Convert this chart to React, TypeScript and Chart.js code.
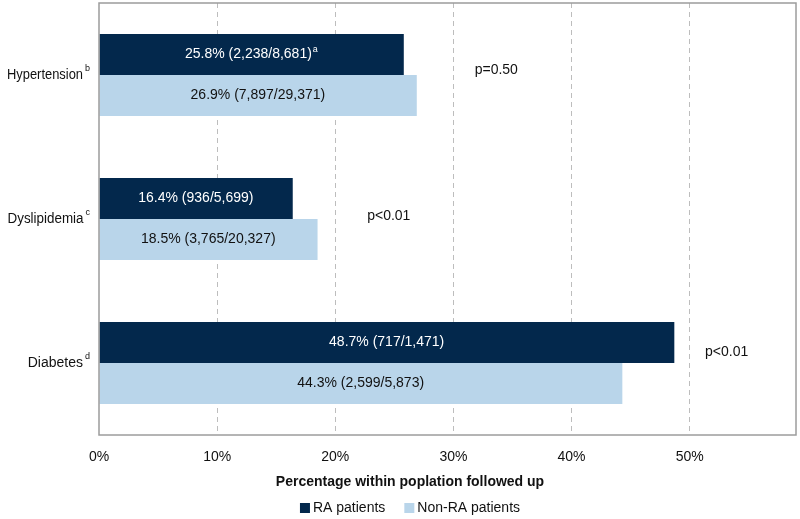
import React, { useEffect, useRef } from 'react';
import { Chart, registerables } from 'chart.js';

Chart.register(...registerables);

const categories = ['Hypertension', 'Dyslipidemia', 'Diabetes'];
const categoryNotes = ['b', 'c', 'd'];
const seriesNames = ['RA patients', 'Non-RA patients'];
const raValues = [25.8, 16.4, 48.7];
const nonRaValues = [26.9, 18.5, 44.3];
const raCases = [2238, 936, 717];
const raTotals = [8681, 5699, 1471];
const nonRaCases = [7897, 3765, 2599];
const nonRaTotals = [29371, 20327, 5873];
const raNotes = ['a', '', ''];
const pValueTexts = ['p=0.50', 'p<0.01', 'p<0.01'];
const pValueX = [31.8, 22.7, 51.3];
const pValueYOffset = [-0.035, -0.02, -0.076];
const xTickValues = [0, 10, 20, 30, 40, 50];
const xAxisTitle = 'Percentage within poplation followed up';

const FONT = "'Liberation Sans', Arial, sans-serif";
const RA_COLOR = '#03284C';
const NON_RA_COLOR = '#B9D5EA';
const AXIS_COLOR = '#9c9c9c';

const fmt = (n: number) => n.toLocaleString('en-US');

function drawWithSup(ctx: CanvasRenderingContext2D, main: string, sup: string, cx: number, cy: number, color: string) {
  ctx.save();
  ctx.fillStyle = color;
  ctx.textBaseline = 'middle';
  ctx.textAlign = 'left';
  ctx.font = `14px ${FONT}`;
  const mw = ctx.measureText(main).width;
  ctx.font = `9px ${FONT}`;
  const sw = sup ? ctx.measureText(sup).width + 1 : 0;
  const x0 = cx - (mw + sw) / 2;
  ctx.font = `14px ${FONT}`;
  ctx.fillText(main, x0, cy);
  if (sup) {
    ctx.font = `9px ${FONT}`;
    ctx.fillText(sup, x0 + mw + 1, cy - 5);
  }
  ctx.restore();
}

const customPlugin = {
  id: 'customDraw',
  afterDatasetsDraw(chart: any) {
    const ctx = chart.ctx as CanvasRenderingContext2D;
    const xs = chart.scales.x;
    const ys = chart.scales.y;
    const x0 = xs.getPixelForValue(0);
    // bar labels
    const m0 = chart.getDatasetMeta(0);
    const m1 = chart.getDatasetMeta(1);
    categories.forEach((_, i) => {
      const b0 = m0.data[i];
      const b1 = m1.data[i];
      const t0 = `${raValues[i].toFixed(1)}% (${fmt(raCases[i])}/${fmt(raTotals[i])})`;
      const t1 = `${nonRaValues[i].toFixed(1)}% (${fmt(nonRaCases[i])}/${fmt(nonRaTotals[i])})`;
      drawWithSup(ctx, t0, raNotes[i], (x0 + b0.x) / 2, b0.y, '#ffffff');
      drawWithSup(ctx, t1, '', (x0 + b1.x) / 2, b1.y, '#111111');
    });
    // p values
    ctx.save();
    ctx.font = `14px ${FONT}`;
    ctx.fillStyle = '#111111';
    ctx.textBaseline = 'middle';
    ctx.textAlign = 'left';
    pValueTexts.forEach((t, i) => {
      ctx.fillText(t, xs.getPixelForValue(pValueX[i]), ys.getPixelForValue(i + pValueYOffset[i]));
    });
    ctx.restore();
  },
  afterDraw(chart: any) {
    const ctx = chart.ctx as CanvasRenderingContext2D;
    const a = chart.chartArea;
    const ys = chart.scales.y;
    // plot border
    ctx.save();
    ctx.strokeStyle = AXIS_COLOR;
    ctx.lineWidth = 1.5;
    ctx.strokeRect(a.left, a.top, a.right - a.left, a.bottom - a.top);
    ctx.restore();
    // y labels
    ctx.save();
    ctx.fillStyle = '#111111';
    ctx.textBaseline = 'middle';
    categories.forEach((c, i) => {
      const y = ys.getPixelForValue(i);
      const right = a.left - 9;
      ctx.font = `9px ${FONT}`;
      ctx.textAlign = 'right';
      const sw = ctx.measureText(categoryNotes[i]).width;
      ctx.fillText(categoryNotes[i], right, y - 6);
      ctx.font = `14px ${FONT}`;
      ctx.fillText(c, right - sw - 2, y, 76);
    });
    ctx.restore();
    // axis title
    const cx = 410;
    ctx.save();
    ctx.fillStyle = '#111111';
    ctx.textBaseline = 'middle';
    ctx.textAlign = 'center';
    ctx.font = `bold 14px ${FONT}`;
    ctx.fillText(xAxisTitle, cx, 482);
    // legend
    ctx.font = `14px ${FONT}`;
    ctx.textAlign = 'left';
    const box = 10;
    const gap = 3;
    const spacing = 19;
    const w0 = ctx.measureText(seriesNames[0]).width;
    const w1 = ctx.measureText(seriesNames[1]).width;
    const total = box + gap + w0 + spacing + box + gap + w1;
    let x = cx - total / 2;
    const ly = 508;
    const colors = [RA_COLOR, NON_RA_COLOR];
    [w0, w1].forEach((w, i) => {
      ctx.fillStyle = colors[i];
      ctx.fillRect(x, ly - box / 2, box, box);
      x += box + gap;
      ctx.fillStyle = '#111111';
      ctx.fillText(seriesNames[i], x, ly);
      x += w + spacing;
    });
    ctx.restore();
  },
};

export default function App() {
  const ref = useRef<HTMLCanvasElement>(null);
  useEffect(() => {
    document.body.style.margin = '0';
    const canvas = ref.current!;
    const chart = new Chart(canvas, {
      type: 'bar',
      data: {
        labels: categories,
        datasets: [
          { label: seriesNames[0], data: raValues, backgroundColor: RA_COLOR, barPercentage: 1, categoryPercentage: 0.57 },
          { label: seriesNames[1], data: nonRaValues, backgroundColor: NON_RA_COLOR, barPercentage: 1, categoryPercentage: 0.57 },
        ],
      },
      options: {
        indexAxis: 'y',
        responsive: false,
        animation: false,
        events: [],
        layout: { padding: { top: 3, right: 4, left: 0, bottom: 0 } },
        plugins: {
          legend: { display: false },
          tooltip: { enabled: false },
          title: { display: false },
        },
        scales: {
          x: {
            type: 'linear',
            min: 0,
            max: 59,
            afterBuildTicks: (scale: any) => {
              scale.ticks = xTickValues.map((v) => ({ value: v }));
            },
            afterFit: (scale: any) => {
              scale.height = 84;
            },
            ticks: {
              callback: (v: any) => `${v}%`,
              font: { family: FONT, size: 14 },
              color: '#111111',
              padding: 14,
            },
            grid: {
              color: (c: any) => (c.tick && c.tick.value === 0 ? 'rgba(0,0,0,0)' : '#bdbdbd'),
              lineWidth: 1,
              drawTicks: false,
            },
            border: { display: false, dash: [5, 4] },
          },
          y: {
            type: 'category',
            afterFit: (scale: any) => {
              scale.width = 99;
            },
            ticks: { display: false },
            grid: { display: false, drawTicks: false },
            border: { display: false },
          },
        },
      },
      plugins: [customPlugin],
    } as any);
    return () => chart.destroy();
  }, []);
  return <canvas ref={ref} width={800} height={519} style={{ display: 'block' }} />;
}
